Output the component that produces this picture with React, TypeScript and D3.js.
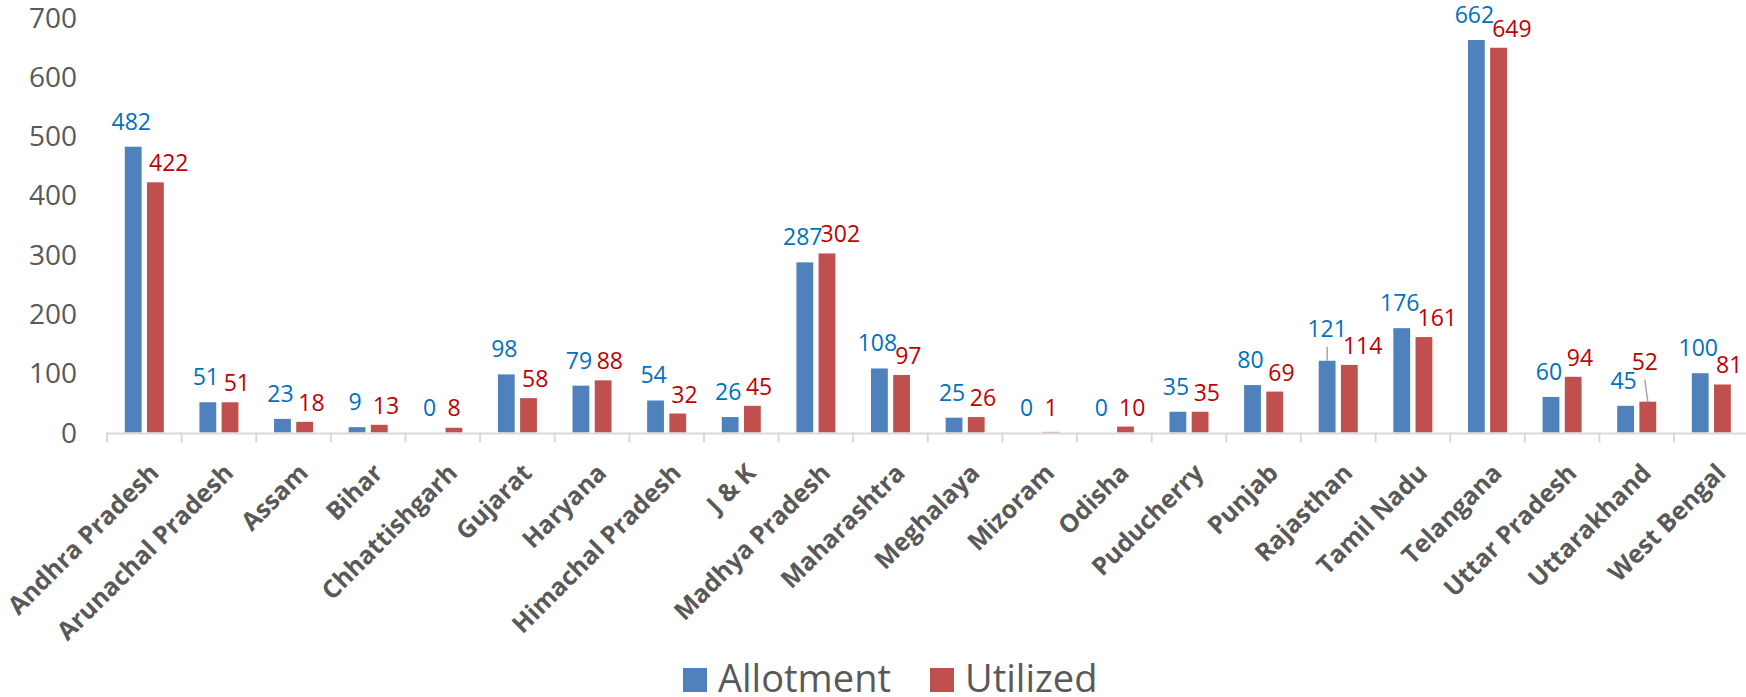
import React, { useEffect, useRef } from 'react';
import * as d3 from 'd3';

// Chart data
const states = [
  'Andhra Pradesh',
  'Arunachal Pradesh',
  'Assam',
  'Bihar',
  'Chhattishgarh',
  'Gujarat',
  'Haryana',
  'Himachal Pradesh',
  'J & K',
  'Madhya Pradesh',
  'Maharashtra',
  'Meghalaya',
  'Mizoram',
  'Odisha',
  'Puducherry',
  'Punjab',
  'Rajasthan',
  'Tamil Nadu',
  'Telangana',
  'Uttar Pradesh',
  'Uttarakhand',
  'West Bengal',
];
const allotment = [482, 51, 23, 9, 0, 98, 79, 54, 26, 287, 108, 25, 0, 0, 35, 80, 121, 176, 662, 60, 45, 100];
const utilized = [422, 51, 18, 13, 8, 58, 88, 32, 45, 302, 97, 26, 1, 10, 35, 69, 114, 161, 649, 94, 52, 81];
const seriesNames = ['Allotment', 'Utilized'];
const yTicks = [0, 100, 200, 300, 400, 500, 600, 700];
// labels that Excel drew with a leader line
const leaderLabels = ['Rajasthan|Allotment', 'Uttarakhand|Utilized'];

const W = 1746;
const H = 697;
const FONT = "'Open Sans', 'Noto Sans', sans-serif";
const barColors = ['#4F81BD', '#C0504D'];
const labelColors = ['#0070C0', '#C00000'];

const App: React.FC = () => {
  const svgRef = useRef<SVGSVGElement>(null);

  useEffect(() => {
    document.body.style.margin = '0';
    if (!svgRef.current) return;
    const svg = d3.select(svgRef.current);
    svg.selectAll('*').remove();

    const left = 107;
    const step = 74.62;
    const x0 = d3
      .scaleBand<string>()
      .domain(states)
      .range([left, left + step * states.length])
      .padding(0);
    const bw = x0.bandwidth();
    const x1 = d3
      .scaleBand<string>()
      .domain(seriesNames)
      .range([bw / 2 - 19.5, bw / 2 + 19.5])
      .paddingInner(0.243);
    const y = d3.scaleLinear().domain([0, 700]).range([432.5, 17.5]);
    const base = y(0);

    // y tick labels
    svg
      .append('g')
      .selectAll('text')
      .data(yTicks)
      .enter()
      .append('text')
      .attr('x', 77)
      .attr('y', (d) => y(d))
      .attr('dy', '0.36em')
      .attr('text-anchor', 'end')
      .attr('font-family', FONT)
      .attr('font-size', 28)
      .attr('fill', '#595959')
      .text((d) => d);

    // bars
    const series = [allotment, utilized];
    series.forEach((vals, si) => {
      svg
        .append('g')
        .selectAll('rect')
        .data(vals)
        .enter()
        .append('rect')
        .attr('x', (d, i) => (x0(states[i]) as number) + (x1(seriesNames[si]) as number))
        .attr('y', (d) => y(d))
        .attr('width', x1.bandwidth())
        .attr('height', (d) => base - y(d))
        .attr('fill', barColors[si]);
    });

    // x axis line + ticks
    const ax = svg.append('g');
    ax.append('line')
      .attr('x1', left)
      .attr('x2', W)
      .attr('y1', base + 1)
      .attr('y2', base + 1)
      .attr('stroke', '#D9D9D9')
      .attr('stroke-width', 2);
    ax.selectAll('line.tick')
      .data(d3.range(states.length + 1))
      .enter()
      .append('line')
      .attr('class', 'tick')
      .attr('x1', (i) => left + i * step)
      .attr('x2', (i) => left + i * step)
      .attr('y1', base)
      .attr('y2', base + 10)
      .attr('stroke', '#D9D9D9')
      .attr('stroke-width', 2);

    // category labels, rotated
    svg
      .append('g')
      .selectAll('text')
      .data(states)
      .enter()
      .append('text')
      .attr('transform', (d) => `translate(${(x0(d) as number) + bw / 2 + 16},${base + 42}) rotate(-45)`)
      .attr('text-anchor', 'end')
      .attr('font-family', FONT)
      .attr('font-weight', 700)
      .attr('font-size', 25)
      .attr('fill', '#595959')
      .text((d) => d);

    // value labels
    series.forEach((vals, si) => {
      const g = svg.append('g');
      vals.forEach((v, i) => {
        const s = states[i];
        const bx = (x0(s) as number) + (x1(seriesNames[si]) as number);
        const cx = bx + x1.bandwidth() / 2;
        const top = y(v);
        const lead = leaderLabels.includes(`${s}|${seriesNames[si]}`);
        let ly: number;
        let lx: number;
        let anchor: string;
        if (lead) {
          ly = top - (si === 0 ? 24 : 32);
          lx = cx - (si === 0 ? 0 : 3);
          anchor = 'middle';
          g.append('line')
            .attr('x1', cx - (si === 0 ? 0 : 3))
            .attr('x2', cx)
            .attr('y1', ly + 10)
            .attr('y2', top)
            .attr('stroke', '#A6A6A6')
            .attr('stroke-width', 1.5);
        } else if (si === 0) {
          ly = Math.min(top - 17, 416);
          lx = cx - 2;
          anchor = 'middle';
        } else {
          ly = Math.min(top - 11, 416);
          lx = bx + 2;
          anchor = 'start';
        }
        g.append('text')
          .attr('x', lx)
          .attr('y', ly)
          .attr('text-anchor', anchor)
          .attr('font-family', FONT)
          .attr('font-size', 23)
          .attr('fill', labelColors[si])
          .text(v);
      });
    });

    // legend
    const legendX = [683, 930];
    const lg = svg.append('g');
    seriesNames.forEach((name, si) => {
      lg.append('rect')
        .attr('x', legendX[si])
        .attr('y', 668)
        .attr('width', 24)
        .attr('height', 24)
        .attr('fill', barColors[si]);
      lg.append('text')
        .attr('x', legendX[si] + 35)
        .attr('y', 692)
        .attr('font-family', FONT)
        .attr('font-size', 38)
        .attr('fill', '#595959')
        .text(name);
    });
  }, []);

  return <svg ref={svgRef} width={W} height={H} style={{ display: 'block' }} />;
};

export default App;
